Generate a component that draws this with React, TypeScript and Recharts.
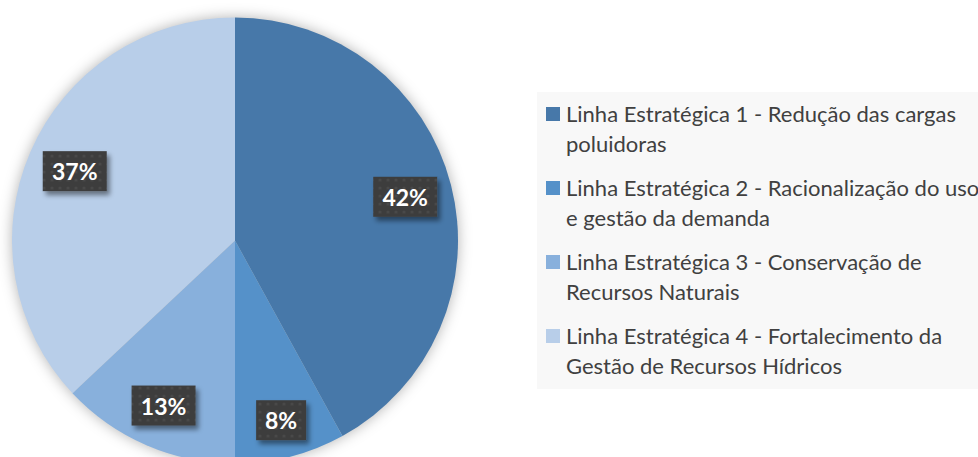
import React from 'react';
import { PieChart, Pie, Cell, Legend } from 'recharts';

const categories = [
  'Linha Estratégica 1 - Redução das cargas\npoluidoras',
  'Linha Estratégica 2 - Racionalização do uso\ne gestão da demanda',
  'Linha Estratégica 3 - Conservação de\nRecursos Naturais',
  'Linha Estratégica 4 - Fortalecimento da\nGestão de Recursos Hídricos',
];
const shares = [42, 8, 13, 37];
const colors = ['#4778a9', '#5591c9', '#88b0dc', '#b8cee9'];

const data = categories.map((name, i) => ({ name, value: shares[i] }));

const RAD = Math.PI / 180;

const renderLabel = (props: any) => {
  const { cx, cy, midAngle, outerRadius, value } = props;
  const text = `${value}%`;
  const w = 14 * text.length + 22;
  const h = 40;
  const ux = Math.cos(-midAngle * RAD);
  const uy = Math.sin(-midAngle * RAD);
  const T = outerRadius - 11;
  const b = Math.abs(ux) * w / 2 + Math.abs(uy) * h / 2;
  const c = (w * w) / 4 + (h * h) / 4 - T * T;
  const d = -b + Math.sqrt(b * b - c);
  const x = cx + d * ux;
  const y = cy + d * uy;
  return (
    <g>
      <rect x={x - w / 2} y={y - h / 2} width={w} height={h} fill="url(#dots)" filter="url(#boxShadow)" />
      <text
        x={x}
        y={y}
        textAnchor="middle"
        dominantBaseline="central"
        fill="#ffffff"
        fontFamily="Lato, sans-serif"
        fontWeight={700}
        fontSize={23}
      >
        {text}
      </text>
    </g>
  );
};

const LegendContent = () => (
  <div
    style={{
      background: '#f8f8f8',
      width: 441,
      height: 297,
      boxSizing: 'border-box',
      paddingTop: 7,
      fontFamily: 'Lato, sans-serif',
      fontSize: 22,
      color: '#404040',
    }}
  >
    {categories.map((name, i) => (
      <div key={i} style={{ display: 'flex', alignItems: 'flex-start', marginTop: i === 0 ? 0 : 14 }}>
        <div style={{ width: 14, height: 14, background: colors[i], marginLeft: 9, marginTop: 8, marginRight: 6, flexShrink: 0 }} />
        <div style={{ whiteSpace: 'pre', lineHeight: '30px' }}>{name}</div>
      </div>
    ))}
  </div>
);

export default function App() {
  return (
    <div style={{ position: 'absolute', left: 0, top: 0, width: 978, height: 457, background: '#ffffff', overflow: 'hidden' }}>
      <style>{`.recharts-pie-sectors, .recharts-pie > g:first-child { filter: drop-shadow(0px 0px 7px rgba(0,0,0,0.30)); }`}</style>
      <PieChart width={978} height={457} margin={{ top: 0, right: 0, bottom: 0, left: 0 }}>
        <defs>
          <pattern id="dots" width="8" height="8" patternUnits="userSpaceOnUse">
            <rect width="8" height="8" fill="#3e3e3e" />
            <circle cx="4" cy="4" r="1.6" fill="#484848" />
          </pattern>
          <filter id="boxShadow" x="-30%" y="-30%" width="160%" height="170%">
            <feDropShadow dx="3" dy="4" stdDeviation="2.5" floodColor="#000" floodOpacity="0.45" />
          </filter>
        </defs>
        <Pie
          data={data}
          dataKey="value"
          nameKey="name"
          cx={235}
          cy={240.5}
          outerRadius={223}
          startAngle={90}
          endAngle={-270}
          stroke="none"
          label={renderLabel}
          labelLine={false}
          isAnimationActive={false}
        >
          {data.map((_, i) => (
            <Cell key={i} fill={colors[i]} />
          ))}
        </Pie>
        <Legend
          content={<LegendContent />}
          wrapperStyle={{ position: 'absolute', left: 537, top: 92, width: 441, height: 297 }}
        />
      </PieChart>
    </div>
  );
}
